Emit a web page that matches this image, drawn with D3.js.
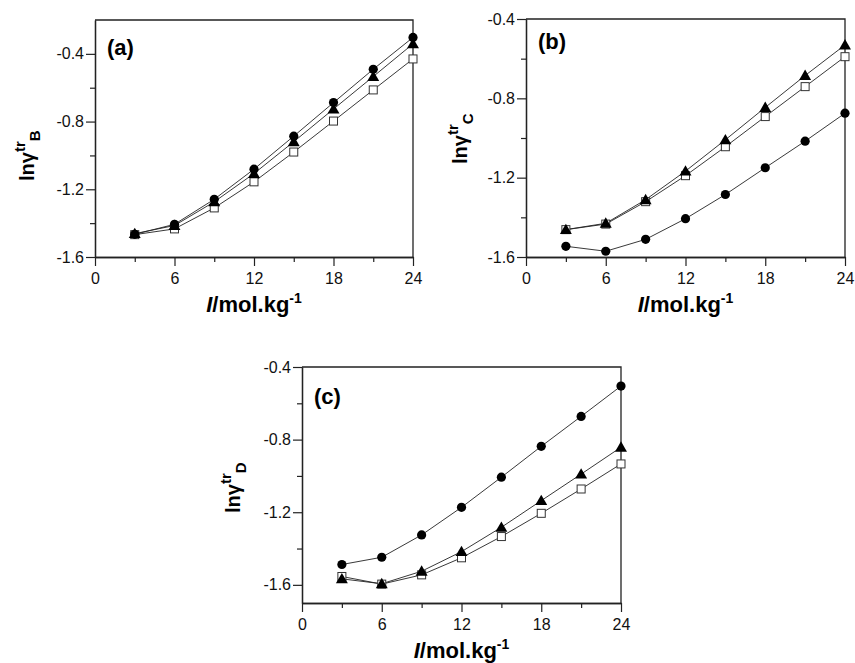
<!DOCTYPE html>
<html>
<head>
<meta charset="utf-8">
<script src="https://cdn.jsdelivr.net/npm/d3@7"></script>
<style>
    body { margin: 0; background: #fff; }
    svg { display: block; font-family: "Liberation Sans", Arial, sans-serif; }
</style>
</head>
<body>
<svg id="chart" width="855" height="663"></svg>
<script>
// ionic strength I (mol/kg), shared by all series
const ionicStrength = [3, 6, 9, 12, 15, 18, 21, 24]

// (a) ln gamma_B
const aCircle = [-1.466, -1.407, -1.259, -1.081, -0.886, -0.688, -0.491, -0.303]
const aTriangle = [-1.462, -1.414, -1.274, -1.107, -0.919, -0.726, -0.534, -0.341]
const aSquare = [-1.468, -1.434, -1.310, -1.156, -0.980, -0.797, -0.613, -0.430]

// (b) ln gamma_C
const bCircle = [-1.546, -1.571, -1.511, -1.407, -1.285, -1.150, -1.016, -0.875]
const bTriangle = [-1.462, -1.430, -1.311, -1.167, -1.009, -0.846, -0.685, -0.531]
const bSquare = [-1.462, -1.434, -1.321, -1.190, -1.044, -0.892, -0.741, -0.590]

// (c) ln gamma_D
const cCircle = [-1.488, -1.448, -1.325, -1.173, -1.007, -0.837, -0.672, -0.505]
const cTriangle = [-1.567, -1.594, -1.525, -1.417, -1.283, -1.136, -0.990, -0.842]
const cSquare = [-1.554, -1.596, -1.545, -1.451, -1.334, -1.206, -1.072, -0.934]

const xTicks = [0, 6, 12, 18, 24]
const xMinor = [3, 9, 15, 21]
const yTicks = [-1.6, -1.2, -0.8, -0.4]
const yMinor = [-1.4, -1.0, -0.6]

const svg = d3.select('#chart')

// panel layout (pixel boxes)
const panels = [
    { tag: '(a)', sub: 'B', left: 95, right: 413, top: 20, bottom: 257, yDomain: [-1.6, -0.2],
      series: [aSquare, aTriangle, aCircle], yLabelX: 34, yLabelY: 181, tagY: 55 },
    { tag: '(b)', sub: 'C', left: 526, right: 845, top: 19, bottom: 257, yDomain: [-1.6, -0.4],
      series: [bSquare, bTriangle, bCircle], yLabelX: 467, yLabelY: 164, tagY: 49 },
    { tag: '(c)', sub: 'D', left: 302, right: 621, top: 367, bottom: 603, yDomain: [-1.7, -0.4],
      series: [cSquare, cTriangle, cCircle], yLabelX: 240, yLabelY: 513, tagY: 404 },
]

const triangle = d3.symbol().type(d3.symbolTriangle).size(62)

function drawPanel(p) {
    const x = d3.scaleLinear().domain([0, 24]).range([p.left, p.right])
    const y = d3.scaleLinear().domain(p.yDomain).range([p.bottom, p.top])
    const g = svg.append('g')

    // frame (top + right)
    g.append('path')
        .attr('d', `M${p.left},${p.top}H${p.right}V${p.bottom}`)
        .attr('fill', 'none').attr('stroke', '#222').attr('stroke-width', 1.3)

    const styleAxis = sel => {
        sel.select('.domain').attr('stroke', '#222').attr('stroke-width', 1.3)
        sel.selectAll('.tick line').attr('stroke', '#222').attr('stroke-width', 1.2)
        sel.selectAll('.tick text').attr('fill', '#111').style('font-size', '16px')
    }

    g.append('g').attr('transform', `translate(0,${p.bottom})`)
        .call(d3.axisBottom(x).tickValues(xMinor).tickSize(5).tickFormat('').tickSizeOuter(0))
        .call(styleAxis)
    g.append('g').attr('transform', `translate(0,${p.bottom})`)
        .call(d3.axisBottom(x).tickValues(xTicks).tickSize(9).tickPadding(7).tickSizeOuter(0))
        .call(styleAxis)

    g.append('g').attr('transform', `translate(${p.left},0)`)
        .call(d3.axisLeft(y).tickValues(yMinor).tickSize(5).tickFormat('').tickSizeOuter(0))
        .call(styleAxis)
    g.append('g').attr('transform', `translate(${p.left},0)`)
        .call(d3.axisLeft(y).tickValues(yTicks).tickSize(9).tickPadding(2).tickSizeOuter(0)
            .tickFormat(d => d.toFixed(1)))
        .call(styleAxis)

    const line = d3.line().x((d, i) => x(ionicStrength[i])).y(d => y(d))

    p.series.forEach(vals => {
        g.append('path').datum(vals)
            .attr('d', line)
            .attr('fill', 'none').attr('stroke', '#222').attr('stroke-width', 0.9)
    })

    // open squares
    g.append('g').selectAll('rect').data(p.series[0]).join('rect')
        .attr('x', (d, i) => x(ionicStrength[i]) - 4)
        .attr('y', d => y(d) - 4)
        .attr('width', 8).attr('height', 8)
        .attr('fill', '#fff').attr('stroke', '#333').attr('stroke-width', 1)

    // filled triangles
    g.append('g').selectAll('path').data(p.series[1]).join('path')
        .attr('d', triangle)
        .attr('transform', (d, i) => `translate(${x(ionicStrength[i])},${y(d) + 1})`)
        .attr('fill', '#000')

    // filled circles
    g.append('g').selectAll('circle').data(p.series[2]).join('circle')
        .attr('cx', (d, i) => x(ionicStrength[i]))
        .attr('cy', d => y(d))
        .attr('r', 4.6)
        .attr('fill', '#000')

    // panel tag
    g.append('text')
        .attr('x', p.left + 12).attr('y', p.tagY)
        .style('font-size', '22px').style('font-weight', 'bold')
        .text(p.tag)

    // x label
    const xl = g.append('text')
        .attr('x', (p.left + p.right) / 2).attr('y', p.bottom + 55)
        .attr('text-anchor', 'middle')
        .style('font-size', '22px').style('font-weight', 'bold')
    xl.append('tspan').style('font-style', 'italic').text('I')
    xl.append('tspan').text('/mol.kg')
    xl.append('tspan').attr('dy', -9).style('font-size', '14px').text('-1')

    // y label
    const yl = g.append('text')
        .attr('transform', `translate(${p.yLabelX},${p.yLabelY}) rotate(-90)`)
        .style('font-size', '20px').style('font-weight', 'bold')
    yl.append('tspan').text('lnγ')
    yl.append('tspan').attr('dy', -9).style('font-size', '15px').text('tr')
    yl.append('tspan').attr('dy', 15).style('font-size', '15px').text(p.sub)
}

panels.forEach(drawPanel)
</script>
</body>
</html>
